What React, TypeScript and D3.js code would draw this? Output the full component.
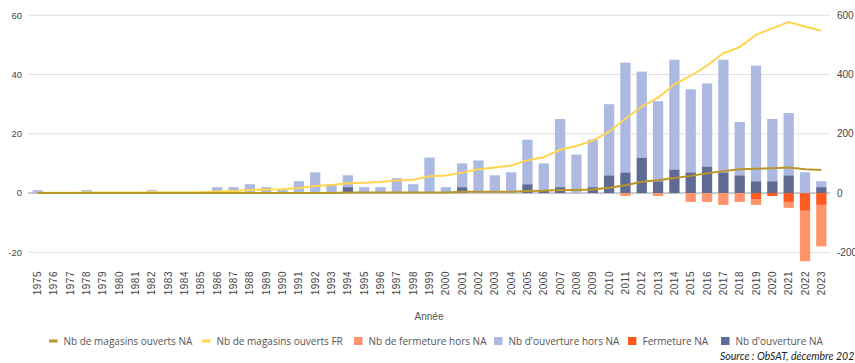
import React from 'react';
import * as d3 from 'd3';

const years = ['1975','1976','1977','1978','1979','1980','1981','1982','1983','1984','1985','1986','1987','1988','1989','1990','1991','1992','1993','1994','1995','1996','1997','1998','1999','2000','2001','2002','2003','2004','2005','2006','2007','2008','2009','2010','2011','2012','2013','2014','2015','2016','2017','2018','2019','2020','2021','2022','2023'];

const ouvertureNA = [0,0,0,0,0,0,0,0,0,0,0,0,0,0,0,0,0,0,0,2,0,0,0,0,0,0,2,0,0,0,3,1,2,0,2,6,7,12,4,8,7,9,7,6,4,4,6,0,2];
const ouvertureHorsNA = [1,0,0,1,0,0,0,1,0,0,0,2,2,3,2,1,4,7,3,4,2,2,5,3,12,2,8,11,6,7,15,9,23,13,16,24,37,29,27,37,28,28,38,18,39,21,21,7,2];
const fermetureNA = [0,0,0,0,0,0,0,0,0,0,0,0,0,0,0,0,0,0,0,0,0,0,0,0,0,0,0,0,0,0,0,0,0,0,0,0,0,0,0,0,0,0,0,0,-2,-1,-3,-6,-4];
const fermetureHorsNA = [0,0,0,0,0,0,0,0,0,0,0,0,0,0,0,0,0,0,0,0,0,0,0,0,0,0,0,0,0,0,0,0,0,0,0,0,-1,0,-1,0,-3,-3,-4,-3,-2,0,-2,-17,-14];
const magasinsNA = [0,0,0,0,0,0,0,0,0,0,0,0,0,0,0,0,0,0,0,2,2,2,2,2,2,2,4,4,4,4,7,8,10,10,12,18,26,38,43,51,58,67,74,80,82,84,86,80,78];
const magasinsFR = [1,1,1,2,2,2,2,3,3,3,3,5,7,10,12,13,17,24,27,33,35,37,42,45,57,59,69,80,86,93,111,121,146,159,177,207,251,292,322,367,396,430,472,493,534,556,577,562,548];

const leftTicks = [-20, 0, 20, 40, 60];
const rightTicks = [-200, 0, 200, 400, 600];

const legendItems = [
  { label: 'Nb de magasins ouverts NA', color: '#b8962a', type: 'line' },
  { label: 'Nb de magasins ouverts FR', color: '#ffd54f', type: 'line' },
  { label: 'Nb de fermeture hors NA', color: '#ff946b', type: 'rect' },
  { label: "Nb d'ouverture hors NA", color: '#acbae3', type: 'rect' },
  { label: 'Fermeture NA', color: '#ff5a1f', type: 'rect' },
  { label: "Nb d'ouverture NA", color: '#5f6b94', type: 'rect' },
];
const legendX = [49, 202, 354, 494, 628, 721];

const C = {
  lightBlue: '#acbae3',
  darkBlue: '#5f6b94',
  lightOrange: '#ff946b',
  darkOrange: '#ff5a1f',
  yellow: '#ffd54f',
  gold: '#b8962a',
};

export default function App() {
  const W = 855, H = 363;
  const x = d3.scaleBand<string>().domain(years).range([29.5, 829.5]).paddingInner(0.37).paddingOuter(0.185);
  const yL = d3.scaleLinear().domain([-20, 60]).range([252.3, 15.3]);
  const yR = d3.scaleLinear().domain([-200, 600]).range([252.3, 15.3]);
  const bw = x.bandwidth();
  const cx = (i: number) => (x(years[i]) as number) + bw / 2;

  const lineGen = d3.line<number>().x((_, i) => cx(i)).y((d) => yR(d));

  const bars: JSX.Element[] = [];
  years.forEach((yr, i) => {
    const bx = x(yr) as number;
    const seg = (v0: number, v1: number, color: string, key: string) => {
      if (v0 === v1) return;
      const a = yL(v0), b = yL(v1);
      bars.push(<rect key={key + yr} x={bx} y={Math.min(a, b)} width={bw} height={Math.abs(a - b)} fill={color} />);
    };
    seg(0, ouvertureNA[i], C.darkBlue, 'on');
    seg(ouvertureNA[i], ouvertureNA[i] + ouvertureHorsNA[i], C.lightBlue, 'oh');
    seg(0, fermetureNA[i], C.darkOrange, 'fn');
    seg(fermetureNA[i], fermetureNA[i] + fermetureHorsNA[i], C.lightOrange, 'fh');
  });

  const font = "'Liberation Sans', Arial, sans-serif";

  return (
    <div style={{ position: 'absolute', left: 0, top: 0 }}>
      <svg width={W} height={H} style={{ display: 'block' }}>
        <rect width={W} height={H} fill="#fff" />
        {leftTicks.map((t) => (
          <line key={'g' + t} x1={28} x2={830} y1={yL(t)} y2={yL(t)} stroke={t === 0 ? '#9a9a9a' : '#e0e0e0'} strokeWidth={1} />
        ))}
        {bars}
        <path d={lineGen(magasinsFR) || ''} fill="none" stroke={C.yellow} strokeWidth={2} />
        <path d={lineGen(magasinsNA) || ''} fill="none" stroke={C.gold} strokeWidth={2} />
        {leftTicks.map((t) => (
          <text key={'l' + t} x={22} y={yL(t)} dy="0.35em" textAnchor="end" fontSize={9.5} fill="#444" fontFamily={font}>{t}</text>
        ))}
        {rightTicks.map((t) => (
          <text key={'r' + t} x={837} y={yR(t)} dy="0.35em" textAnchor="start" fontSize={10} fill="#444" fontFamily={font}>{t}</text>
        ))}
        {years.map((yr, i) => (
          <text key={'x' + yr} transform={`translate(${cx(i)},271) rotate(-90)`} dy="0.35em" textAnchor="end" fontSize={10} letterSpacing={0.5} fill="#444" fontFamily={font}>{yr}</text>
        ))}
        <text x={429} y={316} dy="0.35em" textAnchor="middle" fontSize={10} fill="#555" fontFamily={font}>Année</text>
        {legendItems.map((it, i) => (
          <g key={'lg' + i} transform={`translate(${legendX[i]},341)`}>
            {it.type === 'line'
              ? <rect x={0} y={-1.5} width={8.5} height={3} fill={it.color} />
              : <rect x={0} y={-4} width={8.5} height={8} fill={it.color} />}
            <text x={14.5} y={0} dy="0.35em" fontSize={10} fill="#555" fontFamily="'Open Sans', sans-serif">{it.label}</text>
          </g>
        ))}
        <text x={720} y={356} dy="0.35em" fontSize={10.5} fontStyle="italic" fill="#222" fontFamily="Lato, sans-serif">Source : ObSAT, décembre 2023</text>
      </svg>
    </div>
  );
}
